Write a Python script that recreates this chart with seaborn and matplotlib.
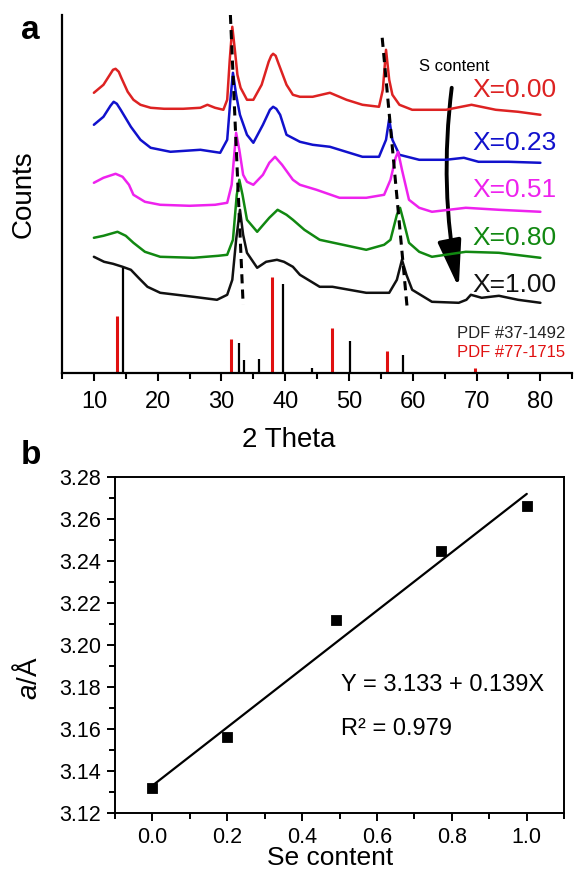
import numpy as np
import pandas as pd
import matplotlib
matplotlib.use("Agg")
import matplotlib.pyplot as plt
from matplotlib.patches import FancyArrowPatch
from matplotlib.ticker import MultipleLocator
import seaborn as sns

# ---- panel a: XRD patterns (2 theta, counts in arbitrary offset units) ----
red_tt = [10.0, 11.5, 12.5, 13.0, 13.4, 13.9, 14.3, 15.3, 16.2, 17.3, 18.9, 21.0, 24.0, 26.7,
          27.8, 29.0, 30.3, 30.9, 31.3, 31.7, 32.1, 32.5, 33.0, 34.0, 35.0, 36.3, 37.4, 37.8,
          38.1, 38.5, 38.9, 40.2, 41.2, 42.3, 44.3, 47.0, 49.6, 52.1, 54.7, 55.3, 55.8, 56.3,
          56.8, 57.9, 59.9, 65.2, 69.2, 73.0, 76.5, 80.0]
red_i = [280, 288, 298, 303, 304, 301, 295, 281, 273, 268, 265, 264, 264, 265,
         268, 265, 263, 273, 313, 346, 323, 298, 285, 273, 273, 288, 311, 317,
         319, 317, 310, 288, 278, 276, 276, 280, 273, 268, 266, 283, 323, 293,
         278, 268, 263, 263, 268, 263, 261, 258]

blue_tt = [10.0, 11.5, 12.6, 13.1, 13.6, 14.2, 15.8, 17.3, 18.9, 22.0, 26.7, 29.8, 30.9, 31.4,
           31.8, 32.3, 32.9, 34.0, 35.0, 36.5, 37.6, 38.1, 38.6, 39.2, 40.2, 42.3, 44.3, 47.0,
           52.1, 54.7, 55.8, 56.3, 56.8, 57.9, 61.0, 65.2, 68.0, 70.3, 75.0, 80.0]
blue_i = [248, 256, 267, 271, 269, 263, 246, 233, 225, 221, 223, 220, 233, 273,
          300, 278, 258, 238, 230, 248, 263, 266, 264, 258, 238, 231, 228, 226,
          216, 216, 233, 254, 233, 218, 213, 213, 215, 211, 211, 210]

mag_tt = [10.0, 11.5, 13.4, 14.5, 15.5, 16.2, 18.0, 20.4, 25.0, 29.0, 30.9, 31.6, 32.3, 32.8,
          33.4, 34.0, 35.0, 36.5, 37.5, 38.4, 39.5, 41.2, 42.3, 44.9, 48.5, 52.7, 55.5, 56.5,
          57.3, 57.7, 58.3, 59.4, 61.0, 63.0, 68.3, 73.5, 80.0]
mag_i = [190, 195, 199, 196, 188, 178, 171, 168, 167, 168, 170, 188, 240, 223,
         198, 191, 188, 198, 210, 216, 208, 193, 188, 183, 175, 175, 178, 193,
         215, 221, 203, 173, 165, 161, 165, 163, 161]

green_tt = [10.0, 11.5, 13.7, 15.0, 16.2, 18.0, 20.4, 25.6, 29.5, 30.9, 31.8, 32.4, 32.8, 33.3,
            34.0, 35.6, 37.5, 38.8, 40.2, 41.2, 43.0, 45.4, 52.7, 55.5, 56.5, 57.5, 58.0, 58.5,
            59.4, 61.0, 63.0, 68.3, 73.5, 80.0]
green_i = [135, 137, 141, 137, 130, 121, 116, 115, 117, 118, 133, 178, 193, 178,
           153, 141, 155, 163, 158, 153, 143, 133, 123, 128, 133, 158, 165, 153,
           130, 121, 116, 121, 120, 115]

black_tt = [10.0, 11.6, 13.0, 14.5, 15.8, 17.0, 18.4, 20.4, 25.6, 29.3, 30.9, 31.7, 32.3, 32.9,
            33.4, 34.0, 35.6, 37.0, 38.7, 39.8, 41.2, 42.3, 45.4, 47.4, 52.7, 56.3, 57.5, 58.3,
            59.0, 59.9, 63.0, 67.2, 68.4, 69.1, 70.8, 73.5, 76.5, 80.0]
black_i = [116, 111, 109, 106, 103, 95, 86, 80, 76, 73, 78, 93, 133, 163,
           138, 120, 105, 111, 113, 111, 106, 98, 86, 86, 80, 80, 93, 113,
           98, 83, 71, 70, 73, 78, 75, 77, 73, 70]

curve_labels = ["X=0.00", "X=0.23", "X=0.51", "X=0.80", "X=1.00"]
curve_colors = ["#dd2222", "#1111cc", "#ee22ee", "#118811", "#111111"]
label_y = [283, 230, 183, 135, 88]

# reference patterns (stick positions and heights)
pdf37_tt = [14.5, 32.8, 33.5, 35.9, 39.6, 44.2, 50.1, 58.4]
pdf37_h = [105, 30, 13, 14, 89, 5, 32, 18]
pdf77_tt = [13.7, 31.5, 37.9, 47.4, 56.0, 69.7]
pdf77_h = [57, 34, 96, 45, 22, 5]

# guide lines (dashed) following the shifting peaks
guide1_tt = [31.4, 33.4]
guide1_i = [358, 68]
guide2_tt = [55.2, 59.1]
guide2_i = [335, 66]

# ---- panel b: lattice parameter vs Se content ----
se_content = [0.0, 0.2, 0.49, 0.77, 1.0]
lattice_a = [3.132, 3.156, 3.212, 3.245, 3.266]
fit_x = [0.0, 1.0]
fit_y = [3.133, 3.272]

sns.set_style("ticks")
plt.rcParams["font.family"] = ["Liberation Sans", "DejaVu Sans"]
plt.rcParams["mathtext.fontset"] = "custom"
plt.rcParams["mathtext.it"] = "Liberation Sans:italic"
plt.rcParams["mathtext.rm"] = "Liberation Sans"
for key in ["text.color", "axes.labelcolor", "xtick.color", "ytick.color", "axes.edgecolor"]:
    plt.rcParams[key] = "black"

fig = plt.figure(figsize=(5.74, 8.69), dpi=100)
ax1 = fig.add_axes([0.108, 0.571, 0.889, 0.412])
ax2 = fig.add_axes([0.200, 0.0644, 0.783, 0.3866])

curves = [(red_tt, red_i), (blue_tt, blue_i), (mag_tt, mag_i),
          (green_tt, green_i), (black_tt, black_i)]
for (tt, inten), col in zip(curves, curve_colors):
    sns.lineplot(x=tt, y=inten, color=col, lw=1.8, sort=False, estimator=None, ax=ax1)

ax1.vlines(pdf37_tt, 0, pdf37_h, color="black", lw=1.6)
ax1.vlines(pdf77_tt, 0, pdf77_h, color="#e01010", lw=2.2)

for gx, gy in [(guide1_tt, guide1_i), (guide2_tt, guide2_i)]:
    ax1.plot(gx, gy, color="black", lw=2.2, ls=(0, (3, 2)))

arrow = FancyArrowPatch((66.1, 285), (67.2, 85), connectionstyle="arc3,rad=0.08",
                        arrowstyle="-|>,head_length=1.6,head_width=0.4",
                        mutation_scale=18, lw=2.8, color="black", shrinkA=0, shrinkB=0)
ax1.add_patch(arrow)
ax1.text(61.0, 306, "S content", fontsize=12, va="center", ha="left")

for lab, col, ly in zip(curve_labels, curve_colors, label_y):
    ax1.text(69.4, ly, lab, color=col, fontsize=19, va="center", ha="left")

ax1.text(66.9, 39, "PDF #37-1492", fontsize=12, color="#222222", va="center", ha="left")
ax1.text(66.9, 20, "PDF #77-1715", fontsize=12, color="#e01010", va="center", ha="left")

ax1.set_yticks([])
ax1.xaxis.set_minor_locator(MultipleLocator(5))
ax1.set_xticks(range(10, 90, 10))
ax1.set_xticklabels([str(v) for v in range(10, 90, 10)])
ax1.set_xlim(5, 85)
ax1.set_ylim(0, 358)
ax1.tick_params(axis="x", which="major", length=6, width=1.5, labelsize=17, pad=7)
ax1.tick_params(axis="x", which="minor", length=4, width=1.5)
sns.despine(ax=ax1)
for s in ["left", "bottom"]:
    ax1.spines[s].set_linewidth(1.6)
ax1.set_xlabel("2 Theta", fontsize=20)
ax1.xaxis.set_label_coords(0.445, -0.15)
ax1.set_ylabel("Counts", fontsize=20)
ax1.yaxis.set_label_coords(-0.05, 0.5)

# panel b
sns.lineplot(x=fit_x, y=fit_y, color="black", lw=1.6, ax=ax2)
sns.scatterplot(x=se_content, y=lattice_a, marker="s", s=55, color="black",
                edgecolor="black", zorder=3, ax=ax2)
ax2.xaxis.set_minor_locator(MultipleLocator(0.1))
ax2.yaxis.set_minor_locator(MultipleLocator(0.01))
ax2.set_xticks([0.0, 0.2, 0.4, 0.6, 0.8, 1.0])
ax2.set_xticklabels(["0.0", "0.2", "0.4", "0.6", "0.8", "1.0"])
ax2.set_yticks([3.12, 3.14, 3.16, 3.18, 3.20, 3.22, 3.24, 3.26, 3.28])
ax2.set_yticklabels(["3.12", "3.14", "3.16", "3.18", "3.20", "3.22", "3.24", "3.26", "3.28"])
ax2.set_xlim(-0.1, 1.1)
ax2.set_ylim(3.12, 3.28)
ax2.tick_params(which="major", length=6, width=1.4, labelsize=15.5, pad=4)
ax2.tick_params(which="minor", length=4, width=1.4)
for s in ax2.spines.values():
    s.set_linewidth(1.4)
ax2.set_xlabel("Se content", fontsize=19)
ax2.xaxis.set_label_coords(0.479, -0.098)
ax2.set_ylabel("$\\mathit{a}$/Å", fontsize=20)
ax2.yaxis.set_label_coords(-0.16, 0.40)
ax2.text(0.505, 3.181, "Y = 3.133 + 0.139X", fontsize=17, va="center", ha="left")
ax2.text(0.505, 3.160, "R² = 0.979", fontsize=17, va="center", ha="left")

fig.text(0.036, 0.965, "a", fontsize=24, fontweight="bold", va="center", ha="left")
fig.text(0.036, 0.476, "b", fontsize=24, fontweight="bold", va="center", ha="left")

fig.savefig("out.png", dpi=100)
